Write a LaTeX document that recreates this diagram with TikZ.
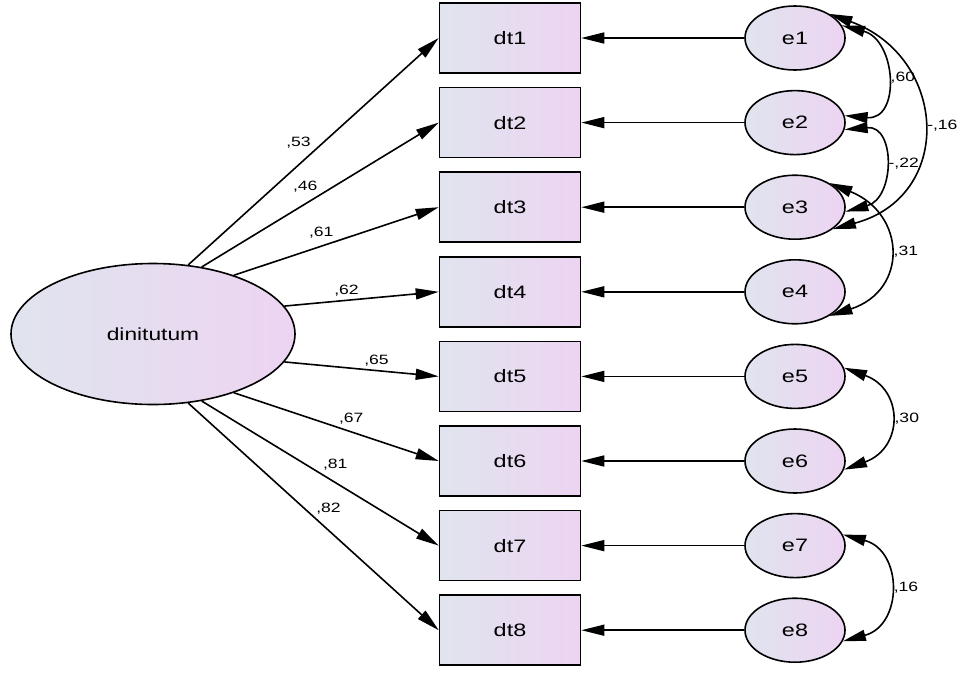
\documentclass[tikz,border=0pt]{standalone}
\usepackage{fontspec}
\setmainfont{Liberation Sans}[FakeStretch=1.3]
\usepackage{xcolor}
\usepackage{tikz}
\usetikzlibrary{arrows.meta,positioning,shapes.geometric}

\definecolor{fillleft}{RGB}{224,228,238}
\definecolor{fillright}{RGB}{237,212,242}

\begin{document}
\begin{tikzpicture}[
        x=1pt, y=1pt,
        node distance=84.6pt,
        line width=1.6pt,
        >={Triangle[length=23pt,width=11pt]}, % 箭头样式
        obs/.style={draw,rectangle,minimum width=141pt,minimum height=70pt,left color=fillleft,right color=fillright,font=\fontsize{18}{21}\selectfont},
        lat/.style={draw,ellipse,minimum width=284pt,minimum height=141pt,left color=fillleft,right color=fillright,font=\fontsize{17.5}{20}\selectfont},
        err/.style={draw,ellipse,minimum width=100pt,minimum height=64pt,inner sep=0pt,left color=fillleft,right color=fillright,font=\fontsize{18}{21}\selectfont},
        lbl/.style={font=\fontsize{13.5}{16}\selectfont,inner sep=2pt}
    ]
        \useasboundingbox (0,0) rectangle (963,-673);

        % 观测变量
        \node[obs] (dt1) at (510,-38) {dt1};
        \node[obs] (dt2) [below of=dt1] {dt2};
        \node[obs] (dt3) [below of=dt2] {dt3};
        \node[obs] (dt4) [below of=dt3] {dt4};
        \node[obs] (dt5) [below of=dt4] {dt5};
        \node[obs] (dt6) [below of=dt5] {dt6};
        \node[obs] (dt7) [below of=dt6] {dt7};
        \node[obs] (dt8) [below of=dt7] {dt8};

        % 误差项
        \node[err] (e1) [right of=dt1, node distance=285pt] {e1};
        \node[err] (e2) [right of=dt2, node distance=285pt] {e2};
        \node[err] (e3) [right of=dt3, node distance=285pt] {e3};
        \node[err] (e4) [right of=dt4, node distance=285pt] {e4};
        \node[err] (e5) [right of=dt5, node distance=285pt] {e5};
        \node[err] (e6) [right of=dt6, node distance=285pt] {e6};
        \node[err] (e7) [right of=dt7, node distance=285pt] {e7};
        \node[err] (e8) [right of=dt8, node distance=285pt] {e8};

        % 潜变量
        \node[lat] (lat) at (153,-334) {dinitutum};

        % 因子载荷
        \draw [->] (lat.63) -- node[lbl,midway,above left] {,53} (dt1.west);
        \draw [->] (lat.54) -- node[lbl,midway,above left] {,46} (dt2.west);
        \draw [->] (lat.36) -- node[lbl,midway,above left] {,61} (dt3.west);
        \draw [->] (lat.12) -- node[lbl,midway,above left] {,62} (dt4.west);
        \draw [->] (lat.-12) -- node[lbl,midway,above right] {,65} (dt5.west);
        \draw [->] (lat.-36) -- node[lbl,midway,above right] {,67} (dt6.west);
        \draw [->] (lat.-54) -- node[lbl,midway,above right] {,81} (dt7.west);
        \draw [->] (lat.-63) -- node[lbl,midway,above right] {,82} (dt8.west);

        % 误差箭头
        \draw [->] (e1) -- (dt1);
        \draw [->] (e2) -- (dt2);
        \draw [->] (e3) -- (dt3);
        \draw [->] (e4) -- (dt4);
        \draw [->] (e5) -- (dt5);
        \draw [->] (e6) -- (dt6);
        \draw [->] (e7) -- (dt7);
        \draw [->] (e8) -- (dt8);

        % 协方差
        \draw [<->] (e1.15) to[out=-15,in=-5,looseness=1.6] node[lbl,right=3pt] {,60} (e2.8);
        \draw [<->] (e2.-8) to[out=5,in=15,looseness=1.6] node[lbl,right=3pt] {-,22} (e3.-5);
        \draw [<->] (e1.35) to[out=-20,in=15,looseness=1.5] node[lbl,right=3pt] {-,16} (e3.-30);
        \draw [<->] (e3.35) to[out=-22,in=18,looseness=1.6] node[lbl,right=3pt] {,31} (e4.-35);
        \draw [<->] (e5.10) to[out=-20,in=20,looseness=1.6] node[lbl,right=3pt] {,30} (e6.-10);
        \draw [<->] (e7.13) to[out=-15,in=15,looseness=1.5] node[lbl,right=3pt] {,16} (e8.-13);

    \end{tikzpicture}
\end{document}
